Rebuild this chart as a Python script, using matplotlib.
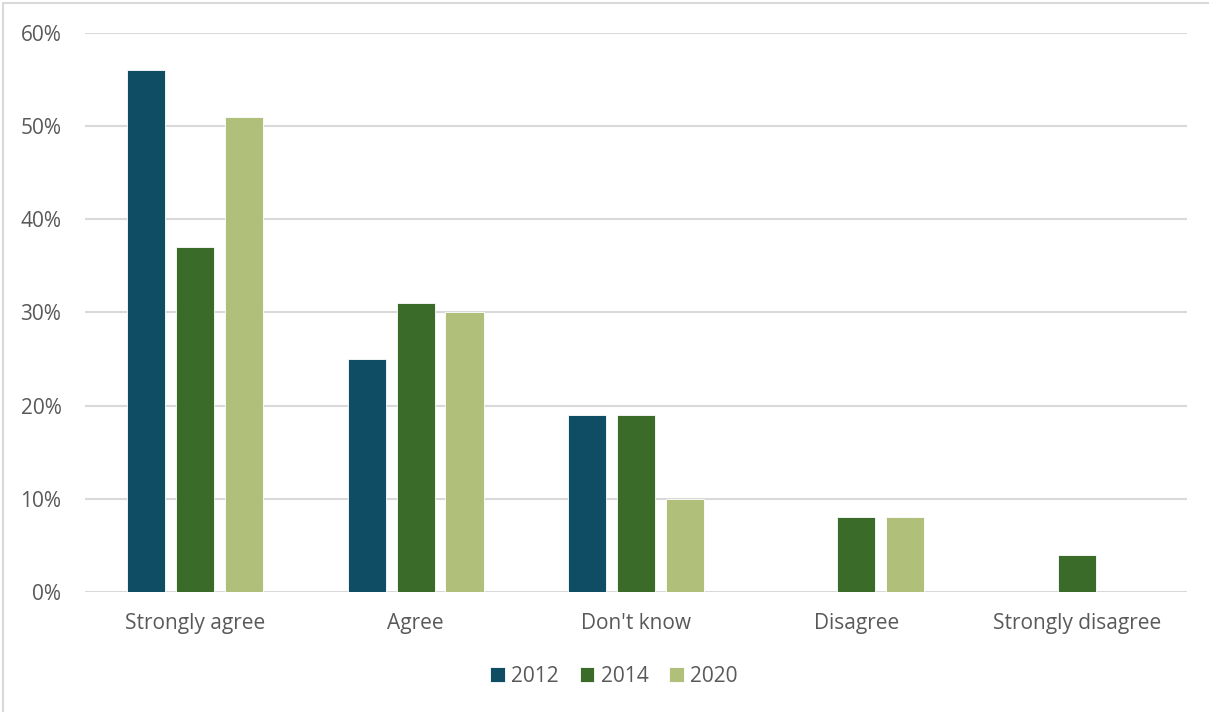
import matplotlib.pyplot as plt
import numpy as np
from matplotlib.patches import Rectangle
from matplotlib.ticker import PercentFormatter

categorias = ["Strongly agree", "Agree", "Don't know", "Disagree", "Strongly disagree"]
series = ["2012", "2014", "2020"]
valores_2012 = [0.56, 0.25, 0.19, 0.0, 0.0]
valores_2014 = [0.37, 0.31, 0.19, 0.08, 0.04]
valores_2020 = [0.51, 0.30, 0.10, 0.08, 0.0]
colores = ["#0E4D64", "#3A6B29", "#B0C07A"]

plt.rcParams['font.family'] = ['Open Sans', 'DejaVu Sans']

fig = plt.figure(figsize=(12.09, 7.12), dpi=100)
ax = fig.add_axes([0.0703, 0.1685, 0.9115, 0.7852])

# marco gris alrededor del gráfico
fig.patches.append(Rectangle((3 / 1209, -0.1), 1.2, 1.1 - 3 / 712, transform=fig.transFigure,
                             fill=False, edgecolor="#D9D9D9", linewidth=1.5))

x = np.arange(len(categorias))
ancho = 0.173
paso = 0.222
for i, (vals, nombre) in enumerate(zip([valores_2012, valores_2014, valores_2020], series)):
    ax.bar(x + (i - 1) * paso, vals, ancho, color=colores[i], label=nombre,
           edgecolor="white", linewidth=0.6, zorder=3)

ax.set_xlim(-0.5, len(categorias) - 0.5)
ax.set_ylim(0, 0.6)
ax.set_yticks(np.arange(0, 0.61, 0.1))
ax.yaxis.set_major_formatter(PercentFormatter(1.0, decimals=0))
ax.grid(axis="y", color="#D9D9D9", linewidth=1.5, zorder=0)
ax.set_axisbelow(True)
for s in ax.spines.values():
    s.set_visible(False)
ax.tick_params(length=0, labelsize=15, labelcolor="#595959")
ax.tick_params(axis="y", pad=17)
ax.tick_params(axis="x", pad=15)
ax.set_xticks(x)
ax.set_xticklabels(categorias)

handles, labels = ax.get_legend_handles_labels()
fig.legend(handles, labels, loc="center", bbox_to_anchor=(614 / 1209, 1 - 676 / 712), ncol=3,
           frameon=False, fontsize=15, labelcolor="#595959", handlelength=0.7,
           handleheight=0.7, handletextpad=0.3, columnspacing=1.0)

fig.savefig("out.png", dpi=100)
